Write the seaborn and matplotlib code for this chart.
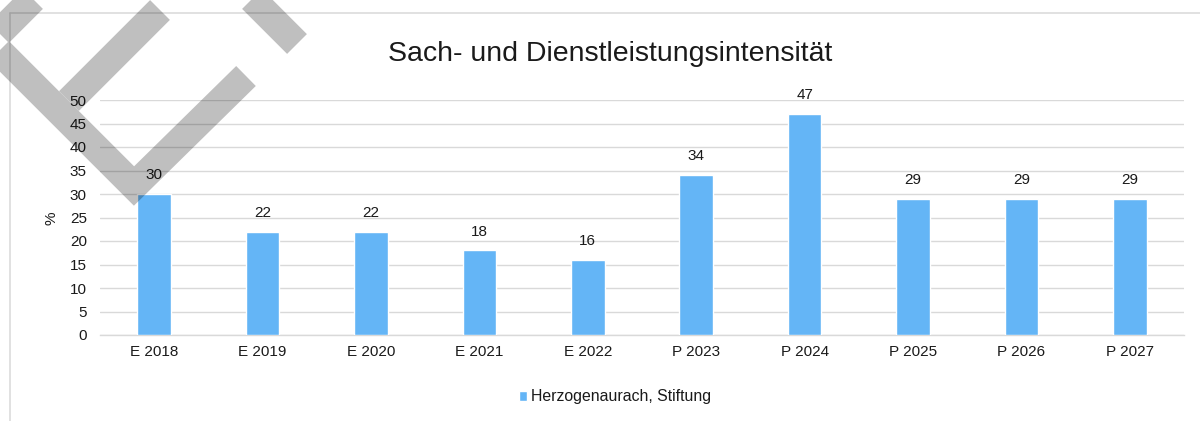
import seaborn as sns
import matplotlib.pyplot as plt
from matplotlib.lines import Line2D
import pandas as pd

categories = ["E 2018", "E 2019", "E 2020", "E 2021", "E 2022",
              "P 2023", "P 2024", "P 2025", "P 2026", "P 2027"]
values = [30, 22, 22, 18, 16, 34, 47, 29, 29, 29]
series_name = "Herzogenaurach, Stiftung"
title = "Sach- und Dienstleistungsintensität"
y_ticks = list(range(0, 55, 5))

sns.set_theme(style="white")
plt.rcParams['font.family'] = ['Liberation Sans', 'DejaVu Sans']
text_color = '#1a1a1a'
grid_color = '#d9d9d9'
bar_color = '#64b5f6'

W, H = 1200, 421
fig = plt.figure(figsize=(12, 4.21), dpi=100)
ax = fig.add_axes([100 / W, 1 - 335 / H, 1084 / W, 235 / H])

df = pd.DataFrame({"Jahr": categories, "Wert": values})
sns.barplot(data=df, x="Jahr", y="Wert", color=bar_color, width=0.31,
            saturation=1, label=series_name, ax=ax, zorder=3)
if ax.get_legend() is not None:
    ax.get_legend().remove()

ax.set_ylim(0, 50)
ax.set_yticks(y_ticks)
ax.yaxis.grid(True, color=grid_color, linewidth=1.0, zorder=0)
ax.set_axisbelow(True)
for s in ["left", "right", "top"]:
    ax.spines[s].set_visible(False)
ax.spines["bottom"].set_color(grid_color)
ax.spines["bottom"].set_linewidth(1.0)
ax.tick_params(axis='y', length=0, pad=9.5, labelsize=11, labelcolor=text_color)
ax.tick_params(axis='x', length=0, pad=7.5, labelsize=11, labelcolor=text_color)
ax.set_xlabel("")
ax.set_ylabel("")

ax.bar_label(ax.containers[0], padding=8.5, fontsize=11, color=text_color)

fig.text(610 / W, 1 - 54 / H, title, ha='center', va='center',
         fontsize=20.5, color=text_color)
fig.text(52 / W, 1 - 218 / H, "%", rotation=90, ha='center', va='center',
         fontsize=11, color=text_color)

handles, labels = ax.get_legend_handles_labels()
fig.legend(handles[:1], [series_name], loc='center',
           bbox_to_anchor=(615 / W, 1 - 397 / H), frameon=False,
           fontsize=11.4, handlelength=0.55, handleheight=0.55,
           handletextpad=0.25, labelcolor=text_color)

# chart frame (cut off at right and bottom)
fig.add_artist(Line2D([10 / W, 10 / W], [1 - 13 / H, 0], color=grid_color,
                      lw=1.1, transform=fig.transFigure))
fig.add_artist(Line2D([10 / W, 1], [1 - 13 / H, 1 - 13 / H], color=grid_color,
                      lw=1.1, transform=fig.transFigure))

# draft watermark strokes (pixel coords)
marks = [
    [(70, -38), (-10, 42), (134, 186), (246, 76)],
    [(69, 101), (160, 10)],
    [(297, 44), (190, -63)],
]
for pts in marks:
    xs = [p[0] / W for p in pts]
    ys = [1 - p[1] / H for p in pts]
    fig.add_artist(Line2D(xs, ys, color='black', alpha=0.25, lw=28 * 0.72,
                          solid_capstyle='butt', solid_joinstyle='miter',
                          transform=fig.transFigure, zorder=10))

fig.savefig("out.png", dpi=100)
